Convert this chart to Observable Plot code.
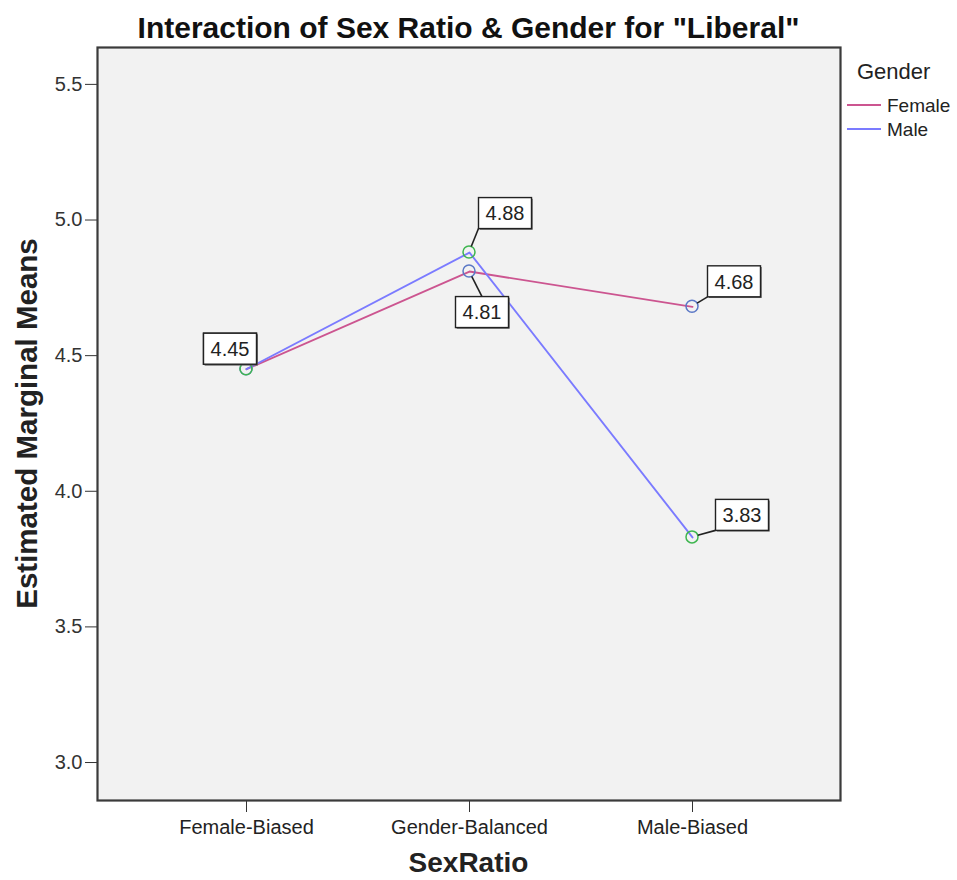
<!DOCTYPE html>
<html>
<head>
<meta charset="utf-8">
<script src="https://cdn.jsdelivr.net/npm/d3@7"></script>
<script src="https://cdn.jsdelivr.net/npm/@observablehq/plot@0.6"></script>
<style>
  body { margin: 0; background: #ffffff; }
  #chart svg { display: block; }
</style>
</head>
<body>
<div id="chart"></div>
<script>
// ---- data ----
const sexRatio = ["Female-Biased", "Gender-Balanced", "Male-Biased"];
const genders = ["Female", "Male"];
const femaleMeans = [4.45, 4.81, 4.68];
const maleMeans = [4.45, 4.88, 3.83];
const yTicks = [3.0, 3.5, 4.0, 4.5, 5.0, 5.5];
const titleText = 'Interaction of Sex Ratio & Gender for "Liberal"';
const xLabel = "SexRatio";
const yLabel = "Estimated Marginal Means";
const legendTitle = "Gender";

// ---- styles / placement ----
const lineColors = { Female: "#cc5590", Male: "#7b7bff" };
const markerColors = { Female: "#5b78c6", Male: "#3fb650" };
// label box centre offset (px) from its point, per gender & category
const labelOffsets = {
  "Female|Female-Biased": [-16, -20],
  "Male|Female-Biased": [-16, -20],
  "Female|Gender-Balanced": [13, 41],
  "Male|Gender-Balanced": [36, -39],
  "Female|Male-Biased": [42, -25],
  "Male|Male-Biased": [50, -22]
};
const FONT = "Liberation Sans, Arial, sans-serif";

const rows = [];
genders.forEach(g => {
  const vals = g === "Female" ? femaleMeans : maleMeans;
  sexRatio.forEach((c, i) => rows.push({ gender: g, cat: c, value: vals[i] }));
});

// label boxes + leader lines + markers, drawn through the plot's scales
function labelMark(index, scales) {
  const g = d3.create("svg:g").attr("font-family", FONT);
  const boxW = 53, boxH = 31, r = 6;
  const items = rows.map(d => {
    const px = scales.x(d.cat), py = scales.y(d.value);
    const off = labelOffsets[d.gender + "|" + d.cat];
    return { d, px, py, cx: px + off[0], cy: py + off[1] };
  });
  items.forEach(it => {
    g.append("circle").attr("cx", it.px).attr("cy", it.py).attr("r", r)
      .attr("fill", "none").attr("stroke", markerColors[it.d.gender]).attr("stroke-width", 1.5);
  });
  items.forEach(it => {
    const x0 = it.cx - boxW / 2, x1 = it.cx + boxW / 2, y0 = it.cy - boxH / 2, y1 = it.cy + boxH / 2;
    let nx = Math.max(x0, Math.min(x1, it.px));
    const ny = Math.max(y0, Math.min(y1, it.py));
    const gap = Math.hypot(nx - it.px, ny - it.py);
    // when the nearest point is not a corner, aim at the middle of that edge
    if (nx > x0 && nx < x1) nx = it.cx;
    const len = Math.hypot(nx - it.px, ny - it.py);
    if (gap > 2 * r) {
      const sx = it.px + (nx - it.px) / len * r, sy = it.py + (ny - it.py) / len * r;
      g.append("line").attr("x1", sx).attr("y1", sy).attr("x2", nx).attr("y2", ny)
        .attr("stroke", "#222").attr("stroke-width", 1.6);
    }
    g.append("rect").attr("x", x0 + 1.2).attr("y", y0 + 1.2).attr("width", boxW).attr("height", boxH)
      .attr("fill", "#666");
    g.append("rect").attr("x", x0).attr("y", y0).attr("width", boxW).attr("height", boxH)
      .attr("fill", "#ffffff").attr("stroke", "#222").attr("stroke-width", 1.4);
    g.append("text").attr("x", it.cx).attr("y", it.cy).attr("dy", "0.36em")
      .attr("text-anchor", "middle").attr("font-size", 20)
      .attr("fill", "#222").text(d3.format(".2f")(it.d.value));
  });
  return g.node();
}

function legendMark() {
  const g = d3.create("svg:g").attr("font-family", FONT).attr("text-anchor", "start");
  g.append("text").attr("x", 857).attr("y", 79).attr("font-size", 22).attr("fill", "#222").text(legendTitle);
  genders.forEach((k, i) => {
    const y = 105 + i * 24;
    g.append("line").attr("x1", 847).attr("x2", 881).attr("y1", y).attr("y2", y)
      .attr("stroke", lineColors[k]).attr("stroke-width", 2);
    g.append("text").attr("x", 887).attr("y", y).attr("dy", "0.35em").attr("font-size", 19)
      .attr("fill", "#222").text(k);
  });
  return g.node();
}

function titlesMark(index, scales, values, dim) {
  const g = d3.create("svg:g").attr("font-family", FONT).attr("font-weight", "bold").attr("text-anchor", "middle");
  const cx = dim.marginLeft + (dim.width - dim.marginLeft - dim.marginRight) / 2;
  const cy = dim.marginTop + (dim.height - dim.marginTop - dim.marginBottom) / 2;
  g.append("text").attr("x", cx).attr("y", dim.marginTop - 20).attr("dy", "0.35em")
    .attr("font-size", 30).attr("fill", "#111").text(titleText);
  g.append("text").attr("transform", `translate(${dim.marginLeft - 70},${cy}) rotate(-90)`)
    .attr("dy", "0.35em").attr("font-size", 29.5).attr("fill", "#222").text(yLabel);
  g.append("text").attr("x", cx).attr("y", dim.height - dim.marginBottom + 62).attr("dy", "0.35em")
    .attr("font-size", 28).attr("fill", "#222").text(xLabel);
  return g.node();
}

const chart = Plot.plot({
  width: 957,
  height: 880,
  marginLeft: 97,
  marginRight: 117,
  marginTop: 47,
  marginBottom: 80,
  style: { fontFamily: FONT, background: "#ffffff", color: "#222" },
  x: { type: "point", domain: sexRatio, padding: 0.665 },
  y: { domain: [2.86, 5.636] },
  marks: [
    Plot.frame({ fill: "#f2f2f2" }),
    Plot.line(rows.filter(d => d.gender === "Female"), { x: "cat", y: "value", stroke: lineColors.Female, strokeWidth: 1.9 }),
    Plot.line(rows.filter(d => d.gender === "Male"), { x: "cat", y: "value", stroke: lineColors.Male, strokeWidth: 1.9 }),
    labelMark,
    Plot.axisY({ ticks: yTicks, tickFormat: d3.format(".1f"), tickSize: 12, tickPadding: 3, fontSize: 20, label: null, stroke: "#333", color: "#333" }),
    Plot.axisX({ tickSize: 12, tickPadding: 7, fontSize: 20, label: null, stroke: "#333", color: "#222" }),
    Plot.frame({ stroke: "#3a3a3a", strokeWidth: 2.2 }),
    titlesMark,
    legendMark
  ]
});
document.getElementById("chart").appendChild(chart);
</script>
</body>
</html>
